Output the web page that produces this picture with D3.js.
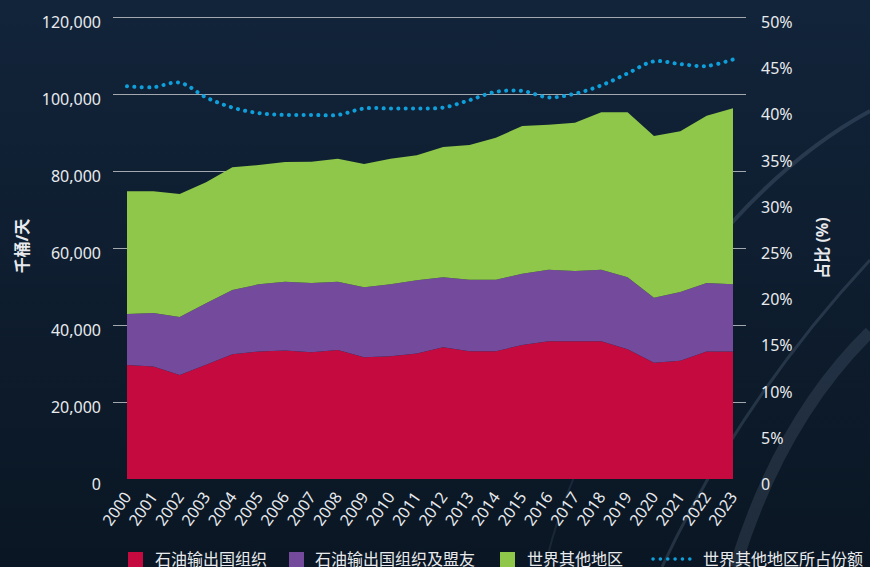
<!DOCTYPE html>
<html lang="zh">
<head>
<meta charset="UTF-8">
<title>石油产量</title>
<script src="https://d3js.org/d3.v7.min.js"></script>
<style>
  html, body { margin: 0; padding: 0; background: #0d1b2c; }
  svg { display: block; }
  text { font-family: "Noto Sans", "Noto Sans CJK SC", sans-serif; fill: #e8eaed; }
</style>
</head>
<body>
<div id="chart"></div>
<script>
// data (thousand barrels / day, share in %)
var years = d3.range(2000, 2024);
var opec = [29600, 29200, 27000, 29700, 32400, 33100, 33400, 32900, 33500, 31600, 31900, 32600,
            34200, 33200, 33200, 34800, 35800, 35800, 35800, 33700, 30200, 30700, 33100, 33100];
var opecPlus = [42860, 43120, 42080, 45630, 49090, 50560, 51260, 50910, 51260, 49780, 50560, 51600,
                52380, 51770, 51770, 53330, 54370, 54030, 54370, 52380, 47090, 48570, 50910, 50560];
var total = [74730, 74730, 74030, 77060, 80960, 81560, 82340, 82420, 83200, 81820, 83200, 84080,
             86230, 86750, 88660, 91690, 92030, 92550, 95250, 95250, 89090, 90310, 94370, 96280];
var restShare = [42.5, 42.4, 42.9, 41.3, 40.2, 39.6, 39.4, 39.4, 39.4, 40.1, 40.1, 40.1,
                 40.2, 41.0, 41.9, 42.0, 41.3, 41.7, 42.6, 43.9, 45.2, 44.9, 44.7, 45.4];
var leftTicks = [0, 20000, 40000, 60000, 80000, 100000, 120000];
var rightTicks = [0, 5, 10, 15, 20, 25, 30, 35, 40, 45, 50];
var seriesNames = ["石油输出国组织", "石油输出国组织及盟友", "世界其他地区", "世界其他地区所占份额"];

var W = 870, H = 567;
var svg = d3.select("#chart").append("svg").attr("width", W).attr("height", H);

// background
var defs = svg.append("defs");
var bg = defs.append("linearGradient").attr("id", "bg").attr("x1", 0).attr("y1", 0).attr("x2", 0).attr("y2", 1);
bg.append("stop").attr("offset", "0%").attr("stop-color", "#12243a");
bg.append("stop").attr("offset", "100%").attr("stop-color", "#0a1623");
svg.append("rect").attr("width", W).attr("height", H).attr("fill", "url(#bg)");

// faint decorative arcs
var deco = svg.append("g").attr("fill", "none").attr("stroke", "#8da2b8");
deco.append("path").attr("d", "M545,567 Q560,500 600,420").attr("stroke-width", 2).attr("opacity", 0.12);
deco.append("path").attr("d", "M662,567 Q740,400 870,260").attr("stroke-width", 3).attr("opacity", 0.2);
deco.append("path").attr("d", "M735,567 Q780,420 870,332").attr("stroke-width", 12).attr("opacity", 0.16);
deco.append("path").attr("d", "M700,260 Q780,160 870,111").attr("stroke-width", 4).attr("opacity", 0.2);

var x = d3.scaleLinear().domain([2000, 2023]).range([127, 733]);
var y = d3.scaleLinear().domain([0, 120000]).range([479, 17]);
var yR = d3.scaleLinear().domain([0, 50]).range([479, 17]);

// grid lines (left axis)
svg.append("g").selectAll("line").data(leftTicks.filter(function(d) { return d > 0; })).join("line")
    .attr("x1", 113).attr("x2", 746)
    .attr("y1", function(d) { return Math.round(y(d)) + 0.5; })
    .attr("y2", function(d) { return Math.round(y(d)) + 0.5; })
    .attr("stroke", "#a3a8ae").attr("stroke-width", 1);

// stacked areas
var layers = [
    {lo: function(i) { return 0; }, hi: function(i) { return opec[i]; }, color: "#c40a3e"},
    {lo: function(i) { return opec[i]; }, hi: function(i) { return opecPlus[i]; }, color: "#744a9c"},
    {lo: function(i) { return opecPlus[i]; }, hi: function(i) { return total[i]; }, color: "#8fc74b"}
];
layers.forEach(function(l) {
    var area = d3.area()
        .x(function(d, i) { return x(d); })
        .y0(function(d, i) { return y(l.lo(i)); })
        .y1(function(d, i) { return y(l.hi(i)); });
    svg.append("path").datum(years).attr("d", area).attr("fill", l.color);
});

// share line, dotted spline
var line = d3.line()
    .x(function(d, i) { return x(years[i]); })
    .y(function(d) { return yR(d); })
    .curve(d3.curveCatmullRom.alpha(0.5));
svg.append("path").datum(restShare).attr("d", line)
    .attr("fill", "none").attr("stroke", "#0fa0dc").attr("stroke-width", 4)
    .attr("stroke-linecap", "round").attr("stroke-dasharray", "0.1 7.25");

// left axis labels
svg.append("g").selectAll("text").data(leftTicks).join("text")
    .attr("x", 101).attr("y", function(d) { return y(d) + 11; })
    .attr("text-anchor", "end").attr("font-size", 16)
    .text(function(d) { return d3.format(",")(d); });

// right axis labels
svg.append("g").selectAll("text").data(rightTicks).join("text")
    .attr("x", 761).attr("y", function(d) { return yR(d) + 11; })
    .attr("font-size", 16)
    .text(function(d) { return d === 0 ? "0" : d + "%"; });

// axis titles
svg.append("text").attr("transform", "translate(28,246) rotate(-90)")
    .attr("text-anchor", "middle").attr("font-size", 16).attr("font-weight", "bold")
    .text("千桶/天");
svg.append("text").attr("transform", "translate(828,248) rotate(-90)")
    .attr("text-anchor", "middle").attr("font-size", 16).attr("font-weight", "bold")
    .text("占比 (%)");

// x labels
svg.append("g").selectAll("text").data(years).join("text")
    .attr("transform", function(d) { return "translate(" + (x(d) + 5) + ",497) rotate(-55)"; })
    .attr("text-anchor", "end").attr("font-size", 16)
    .text(function(d) { return d; });

// legend
var legend = svg.append("g");
var colors = ["#c40a3e", "#744a9c", "#8fc74b"];
var symX = [128, 289, 500];
var textX = [155, 315, 527, 703];
symX.forEach(function(sx, i) {
    legend.append("rect").attr("x", sx).attr("y", 552).attr("width", 15).attr("height", 15).attr("fill", colors[i]);
});
legend.append("line").attr("x1", 653).attr("x2", 692).attr("y1", 559).attr("y2", 559)
    .attr("stroke", "#0fa0dc").attr("stroke-width", 3.5).attr("stroke-linecap", "round")
    .attr("stroke-dasharray", "0.1 7.25");
seriesNames.forEach(function(n, i) {
    legend.append("text").attr("x", textX[i]).attr("y", 565).attr("font-size", 16).text(n);
});
</script>
</body>
</html>
